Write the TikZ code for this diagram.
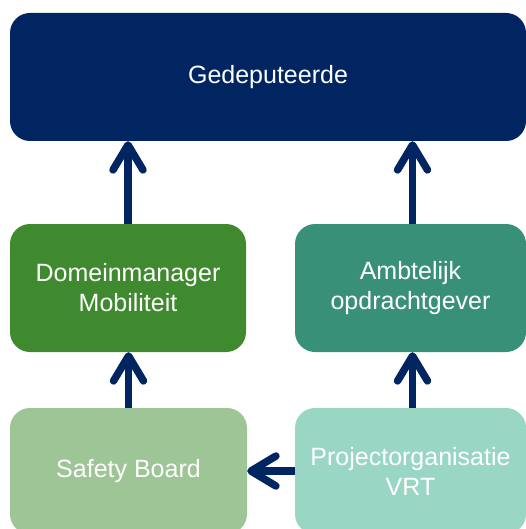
\documentclass[tikz,border=0pt]{standalone}
\usepackage{fontspec}
\setmainfont{Liberation Sans}
\usetikzlibrary{arrows.meta}
\definecolor{navy}{HTML}{002561}
\definecolor{dgreen}{HTML}{3F8A2F}
\definecolor{dteal}{HTML}{389078}
\definecolor{lgreen}{HTML}{9DC596}
\definecolor{lteal}{HTML}{99D6C3}
\tikzset{
  box/.style={rectangle, rounded corners=20pt, draw=none, text=white, align=center,
    font=\fontsize{25}{30}\selectfont, inner sep=0pt},
  arr/.style={navy, line width=7.5pt, -{Straight Barb[length=25pt, width=30pt, line cap=round, line join=round]}}
}
\begin{document}
\begin{tikzpicture}[x=1pt, y=-1pt]
\useasboundingbox (0,0) rectangle (526,529);
\node[box, fill=navy, minimum width=516pt, minimum height=128pt] (G) at (268,77) {Gedeputeerde};
\node[box, fill=dgreen, minimum width=236pt, minimum height=128pt] (D) at (128,288) {Domeinmanager\\Mobiliteit};
\node[box, fill=dteal, minimum width=231pt, minimum height=128pt] (A) at (410.5,288) {Ambtelijk\\opdrachtgever};
\node[box, fill=lgreen, minimum width=237pt, minimum height=126pt] (S) at (128.5,471) {Safety Board};
\node[box, fill=lteal, minimum width=231pt, minimum height=126pt] (P) at (410.5,471) {Projectorganisatie\\VRT};
\draw[arr] (D.north) -- (D.north |- G.south);
\draw[arr] ([xshift=2pt]A.north) -- ([xshift=2pt]A.north |- G.south);
\draw[arr] (S.north) -- (S.north |- D.south);
\draw[arr] ([xshift=2pt]P.north) -- ([xshift=2pt]P.north |- A.south);
\draw[arr] (P.west) -- (S.east);
\end{tikzpicture}
\end{document}
